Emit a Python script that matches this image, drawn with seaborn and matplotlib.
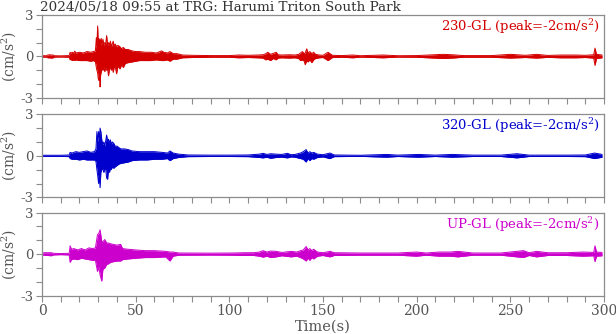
import numpy as np
import pandas as pd
import matplotlib
matplotlib.use("Agg")
import matplotlib.pyplot as plt
from matplotlib.ticker import MultipleLocator
import seaborn as sns

# Envelope of each acceleration record (cm/s^2): time knots, upper and lower bound
t_230 = [0, 2.5, 3, 4, 5, 6, 6.5, 10, 14.5, 15, 15.5, 16, 17, 17.5, 18, 20, 22, 24, 26, 27.5,
         28.5, 29.0, 29.3, 29.7, 30.0, 30.4, 30.8, 31.0, 31.3, 31.6, 32.0, 32.5, 33.0, 33.5,
         34.0, 34.5, 35.0, 35.5, 36.0, 36.5, 37.0, 37.5, 38.0, 38.5, 39.0, 39.8, 40.5, 41.6,
         42.5, 43.4, 44.5, 46, 48, 50, 52, 55, 58, 61, 63.9, 65, 67, 68.3, 70, 72, 75, 80, 90,
         100, 105, 110, 115, 118, 119.5, 120.5, 122, 123.5, 125, 126, 128, 132, 135, 137,
         138, 139, 140, 140.5, 141.3, 142, 143, 144, 145, 146, 148, 150, 152.7, 155, 160, 166,
         170, 182, 190, 200, 214, 219, 225, 240, 250, 258, 264, 270, 277, 285, 290, 294.5,
         295.2, 296, 299]
hi_230 = [0.05, 0.05, 0.1, 0.12, 0.1, 0.1, 0.05, 0.04, 0.06, 0.3, 0.2, 0.3, 0.25, 0.38, 0.25, 0.3,
          0.25, 0.35, 0.3, 0.35, 0.4, 1.35, 0.8, 2.2, 1.0, 1.3, 0.9, 1.2, 0.8, 1.3, 0.9, 1.25, 0.8,
          1.0, 0.9, 1.5, 0.8, 1.0, 0.8, 1.1, 0.7, 0.9, 1.1, 0.7, 0.9, 0.7, 0.8, 0.7, 0.55, 0.65,
          0.5, 0.5, 0.4, 0.35, 0.35, 0.3, 0.3, 0.25, 0.4, 0.3, 0.25, 0.35, 0.2, 0.2, 0.1, 0.08,
          0.06, 0.06, 0.1, 0.08, 0.1, 0.12, 0.2, 0.3, 0.15, 0.22, 0.3, 0.12, 0.1, 0.12, 0.1,
          0.15, 0.25, 0.35, 0.2, 0.25, 0.55, 0.25, 0.35, 0.2, 0.3, 0.15, 0.1, 0.08, 0.3, 0.08,
          0.06, 0.1, 0.05, 0.1, 0.05, 0.06, 0.15, 0.12, 0.06, 0.06, 0.15, 0.08, 0.15, 0.07,
          0.1, 0.1, 0.08, 0.12, 0.6, 0.15, 0.1]
lo_230 = [-0.05, -0.05, -0.1, -0.1, -0.12, -0.1, -0.05, -0.04, -0.06, -0.25, -0.2, -0.3, -0.25,
          -0.3, -0.25, -0.3, -0.3, -0.3, -0.35, -0.3, -0.4, -0.8, -1.0, -1.2, -1.6, -1.75, -1.2,
          -2.2, -1.3, -1.15, -0.9, -1.0, -0.8, -1.1, -0.8, -1.0, -0.9, -1.4, -0.9, -0.8, -1.0,
          -0.8, -1.15, -0.8, -0.7, -1.25, -0.7, -0.9, -0.6, -0.8, -0.5, -0.45, -0.4, -0.35, -0.3,
          -0.3, -0.3, -0.25, -0.3, -0.3, -0.25, -0.35, -0.2, -0.2, -0.1, -0.08, -0.06, -0.06,
          -0.1, -0.08, -0.1, -0.12, -0.25, -0.2, -0.3, -0.15, -0.25, -0.12, -0.1, -0.12, -0.1,
          -0.15, -0.3, -0.25, -0.35, -0.6, -0.3, -0.4, -0.25, -0.45, -0.25, -0.15, -0.1, -0.08,
          -0.3, -0.08, -0.06, -0.1, -0.05, -0.1, -0.05, -0.06, -0.15, -0.12, -0.06, -0.06,
          -0.12, -0.08, -0.12, -0.07, -0.1, -0.1, -0.08, -0.12, -0.65, -0.15, -0.1]

t_320 = [0, 10, 14.5, 15, 16, 18, 20, 22, 24, 26, 28, 28.8, 29.3, 29.7, 30.2, 30.6, 31.0, 31.4,
         31.9, 32.4, 33.0, 33.5, 34.0, 34.5, 35.0, 35.5, 36.0, 36.5, 37.0, 37.5, 38.3, 39.0,
         40.0, 41.0, 42.0, 44, 46, 48, 52, 56, 60, 64, 67, 68.3, 70, 73, 78, 90, 100, 110, 116,
         118, 120, 122, 125, 128, 131, 133, 135, 138, 139.5, 141, 142, 143, 144, 145, 147, 150,
         153.7, 156, 170, 184, 190, 201, 210, 219, 230, 245, 253.5, 260, 280, 290, 295, 299]
hi_320 = [0.04, 0.04, 0.06, 0.25, 0.2, 0.3, 0.25, 0.3, 0.35, 0.25, 0.3, 0.5, 1.75, 1.0, 1.75, 1.2,
          2.0, 1.75, 1.15, 0.8, 1.0, 0.7, 1.1, 1.5, 1.0, 1.2, 0.9, 1.15, 0.8, 1.0, 0.9, 0.7, 0.7,
          0.6, 0.5, 0.5, 0.45, 0.35, 0.3, 0.3, 0.3, 0.25, 0.2, 0.35, 0.2, 0.12, 0.06, 0.05, 0.05,
          0.06, 0.12, 0.18, 0.1, 0.15, 0.12, 0.1, 0.18, 0.08, 0.1, 0.2, 0.3, 0.45, 0.2, 0.3,
          0.2, 0.25, 0.12, 0.08, 0.2, 0.06, 0.04, 0.1, 0.05, 0.1, 0.05, 0.1, 0.05, 0.05, 0.15,
          0.05, 0.05, 0.06, 0.2, 0.1]
lo_320 = [-0.04, -0.04, -0.06, -0.2, -0.25, -0.25, -0.3, -0.25, -0.3, -0.3, -0.3, -0.4, -1.0,
          -1.4, -2.0, -1.5, -2.3, -1.2, -1.0, -0.9, -1.2, -0.9, -1.0, -1.6, -1.7, -1.0, -1.2,
          -0.9, -1.0, -0.8, -0.9, -0.8, -0.7, -0.6, -0.55, -0.5, -0.45, -0.35, -0.3, -0.3,
          -0.25, -0.25, -0.2, -0.35, -0.2, -0.12, -0.06, -0.05, -0.05, -0.06, -0.12, -0.15,
          -0.1, -0.18, -0.12, -0.1, -0.15, -0.08, -0.1, -0.2, -0.25, -0.45, -0.2, -0.35, -0.2,
          -0.25, -0.12, -0.08, -0.2, -0.06, -0.04, -0.1, -0.05, -0.1, -0.05, -0.1, -0.05,
          -0.05, -0.15, -0.05, -0.05, -0.06, -0.2, -0.1]

t_up = [0, 1, 3, 5, 6, 10, 14.5, 15, 15.7, 17, 19, 21, 23, 25, 27, 28.5, 29.6, 30.3, 31.0, 31.9,
        32.5, 33.5, 34.5, 35.5, 36.5, 38, 40, 42, 43, 46, 50, 55, 60, 66, 68.3, 70, 73, 90, 102,
        108, 113, 116, 118, 120, 122, 125, 128, 133, 136, 138, 139.5, 141, 142, 143, 144, 145,
        147, 150, 153.7, 156, 170, 190, 200, 205, 212, 218, 222, 230, 245, 257, 260, 264, 270,
        280, 289, 294.5, 295.2, 296, 299]
hi_up = [0.05, 0.1, 0.1, 0.1, 0.06, 0.04, 0.06, 0.6, 0.35, 0.4, 0.3, 0.4, 0.3, 0.45, 0.4, 0.45,
         1.4, 1.5, 1.75, 0.9, 0.9, 1.05, 0.8, 0.8, 0.75, 0.7, 0.65, 0.7, 0.4, 0.35, 0.3, 0.25,
         0.25, 0.2, 0.15, 0.15, 0.08, 0.07, 0.08, 0.1, 0.1, 0.15, 0.25, 0.15, 0.22, 0.2, 0.12,
         0.2, 0.15, 0.25, 0.3, 0.55, 0.3, 0.4, 0.25, 0.35, 0.15, 0.1, 0.2, 0.1, 0.08, 0.08,
         0.15, 0.08, 0.15, 0.15, 0.2, 0.08, 0.08, 0.25, 0.1, 0.2, 0.1, 0.1, 0.15, 0.12, 0.6,
         0.15, 0.12]
lo_up = [-0.05, -0.08, -0.1, -0.12, -0.06, -0.04, -0.06, -0.6, -0.4, -0.35, -0.4, -0.3, -0.35,
         -0.4, -0.45, -0.45, -1.25, -0.9, -1.5, -1.95, -1.1, -1.0, -0.75, -0.7, -0.6, -0.55,
         -0.5, -0.5, -0.4, -0.35, -0.3, -0.25, -0.25, -0.2, -0.5, -0.15, -0.08, -0.07, -0.08,
         -0.1, -0.1, -0.15, -0.22, -0.15, -0.25, -0.2, -0.12, -0.2, -0.15, -0.25, -0.35, -0.5,
         -0.3, -0.45, -0.25, -0.35, -0.15, -0.1, -0.2, -0.1, -0.08, -0.08, -0.15, -0.08,
         -0.15, -0.15, -0.2, -0.08, -0.08, -0.25, -0.1, -0.2, -0.1, -0.1, -0.15, -0.12, -0.55,
         -0.15, -0.12]

components = ["230-GL", "320-GL", "UP-GL"]
colors = ["#d40000", "#0000cc", "#cc00cc"]
records = [(t_230, hi_230, lo_230), (t_320, hi_320, lo_320), (t_up, hi_up, lo_up)]
title = "2024/05/18 09:55 at TRG: Harumi Triton South Park"

sns.set_style("ticks")
plt.rcParams["font.family"] = ["DejaVu Serif"]
plt.rcParams["mathtext.fontset"] = "dejavuserif"

fig = plt.figure(figsize=(6.16, 3.34), dpi=100)
left, width, height = 0.0682, 0.9123, 0.249
bottoms = [0.7066, 0.4090, 0.1147]
spine_c = "#8c8c8c"
text_c = "#555555"

for i, (name, col, (t, hi, lo)) in enumerate(zip(components, colors, records)):
    ax = fig.add_axes([left, bottoms[i], width, height])
    df = pd.DataFrame({"t": t, "hi": hi, "lo": lo})
    ax.fill_between(df["t"], df["lo"], df["hi"], color=col, lw=0)
    sns.lineplot(data=df, x="t", y="hi", ax=ax, color=col, lw=0.7, estimator=None)
    sns.lineplot(data=df, x="t", y="lo", ax=ax, color=col, lw=0.7, estimator=None)

    ax.set_xlim(0, 300)
    ax.set_ylim(-3, 3)
    ax.set_yticks([-3, 0, 3])
    ax.set_yticklabels(["-3", "0", "3"])
    ax.yaxis.set_minor_locator(MultipleLocator(1))
    ax.xaxis.set_major_locator(MultipleLocator(50))
    ax.xaxis.set_minor_locator(MultipleLocator(10))
    ax.tick_params(which="both", direction="out", length=4, width=0.8, color=spine_c,
                   labelcolor=text_c)
    ax.tick_params(axis="y", labelsize=9.5, pad=2)
    ax.tick_params(axis="x", labelsize=10, pad=2)
    for s in ax.spines.values():
        s.set_color(spine_c)
        s.set_linewidth(0.9)
    ax.set_xlabel("")
    ax.set_ylabel("(cm/s$^2$)", fontsize=10, color=text_c, labelpad=2)
    if i < 2:
        ax.tick_params(axis="x", labelbottom=False)

    peak = lo[int(np.argmax(np.abs(lo)))] if max(np.abs(lo)) >= max(hi) else hi[int(np.argmax(hi))]
    ax.text(0.992, 0.86, f"{name} (peak={round(peak):d}cm/s$^2$)", transform=ax.transAxes,
            ha="right", va="center", fontsize=9.5, color=col)

    if i == 0:
        ax.text(-0.004, 1.05, title, transform=ax.transAxes, ha="left", va="baseline",
                fontsize=9.7, color="#333333")
    if i == 2:
        ax.set_xlabel("Time(s)", fontsize=10.5, color=text_c, labelpad=1)

fig.savefig("out.png", dpi=100)
